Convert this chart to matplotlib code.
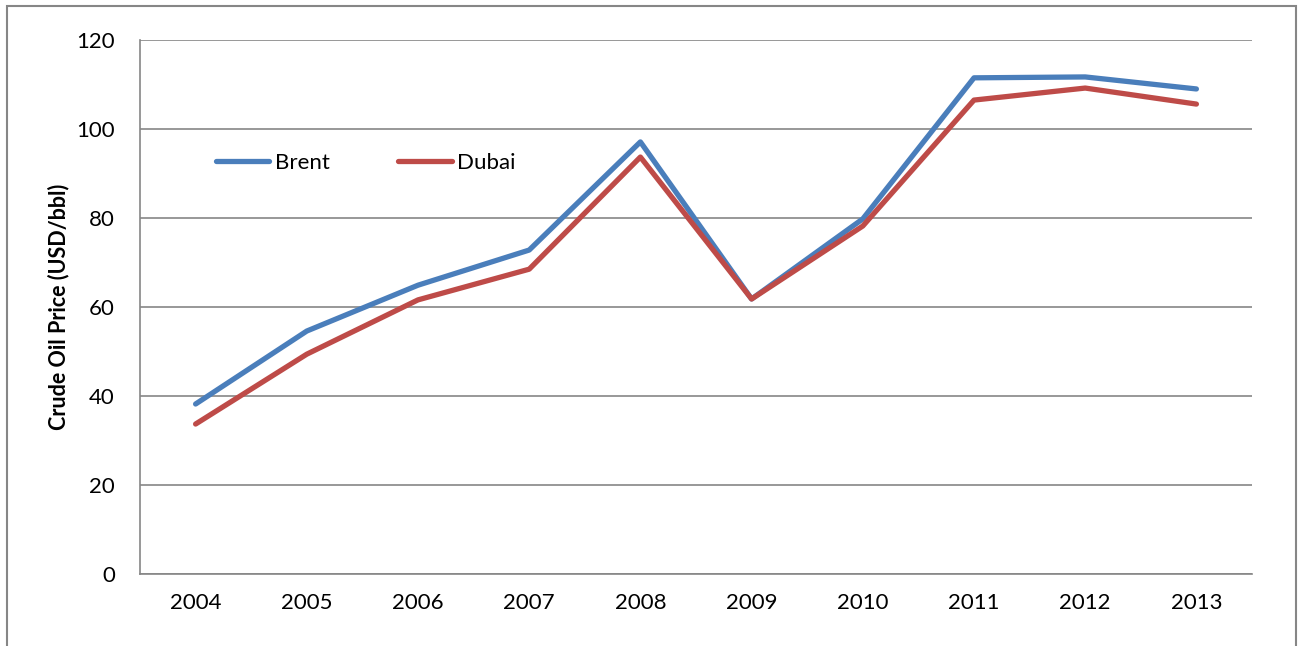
import matplotlib.pyplot as plt
from matplotlib.patches import Rectangle

# Data
years = ['2004', '2005', '2006', '2007', '2008', '2009', '2010', '2011', '2012', '2013']
brent = [38.2, 54.6, 64.9, 72.8, 97.1, 61.8, 79.8, 111.5, 111.7, 109.0]
dubai = [33.7, 49.4, 61.6, 68.5, 93.7, 61.8, 78.2, 106.5, 109.2, 105.6]
yticks = [0, 20, 40, 60, 80, 100, 120]

plt.rcParams['font.family'] = ['Lato', 'DejaVu Sans']

fig = plt.figure(figsize=(12.98, 6.46), dpi=100)
W, H = 1298, 646
ax = fig.add_axes([140 / W, 1 - 574 / H, 1112 / W, 534 / H])

# Outer chart border
fig.patches.append(Rectangle((7 / W, -0.05), 1289 / W, 1 - 6 / H + 0.05,
                             transform=fig.transFigure, fill=False,
                             edgecolor='#868686', linewidth=1.5))

x = list(range(len(years)))
ax.plot(x, brent, color='#4A7EBB', linewidth=3.8, solid_capstyle='round',
        solid_joinstyle='round', label='Brent', zorder=3)
ax.plot(x, dubai, color='#BE4B48', linewidth=3.8, solid_capstyle='round',
        solid_joinstyle='round', label='Dubai', zorder=3)

ax.set_xlim(-0.5, len(years) - 0.5)
ax.set_ylim(0, 120)
ax.set_yticks(yticks)
ax.set_xticks(x)
ax.set_xticklabels(years)
ax.grid(axis='y', color='#868686', linewidth=1.2)
ax.set_axisbelow(True)
ax.tick_params(length=0, labelsize=16, pad=14)
ax.tick_params(axis='y', pad=18)

for side in ['top', 'right']:
    ax.spines[side].set_visible(False)
for side in ['left', 'bottom']:
    ax.spines[side].set_color('#868686')
    ax.spines[side].set_linewidth(1.2)

ax.set_ylabel('Crude Oil Price (USD/bbl)', fontsize=15.5, fontweight='bold', labelpad=5)

ax.legend(loc='center left', bbox_to_anchor=(0.068, 0.77), ncol=2, frameon=False,
          fontsize=16, handlelength=2.4, handletextpad=0.25, columnspacing=3.1,
          borderpad=0, borderaxespad=0)

fig.savefig('out.png', dpi=100)
